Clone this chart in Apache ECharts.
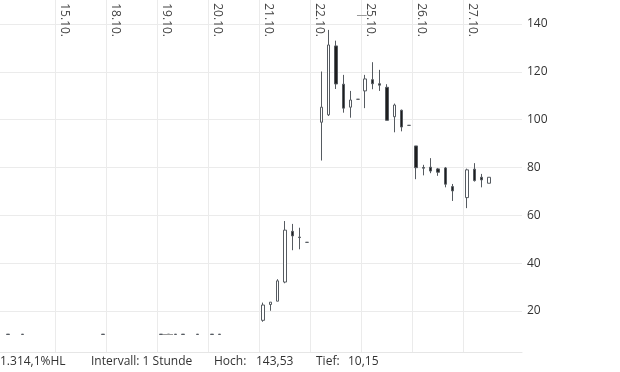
<!DOCTYPE html>
<html>
<head>
<meta charset="utf-8">
<script src="https://cdn.jsdelivr.net/npm/echarts@6/dist/echarts.min.js"></script>
<style>
html,body{margin:0;padding:0;background:#fff;}
#chart{width:620px;height:372px;}
</style>
</head>
<body>
<div id="chart"></div>
<script>
// Day labels (each day = 7 hourly slots)
const days = ['14.10.', '15.10.', '18.10.', '19.10.', '20.10.', '21.10.', '22.10.', '25.10.', '26.10.', '27.10.'];
const slotsPerDay = 7;
const labeledDays = [1, 2, 3, 4, 5, 6, 7, 8, 9];
const yTicks = [20, 40, 60, 80, 100, 120, 140];

// Candles: day index, hour slot, open, close, low, high
const candleDay  = [0, 0, 1, 3, 3, 3, 3, 3, 4, 4,
                    5, 5, 5, 5, 5, 5, 5,
                    6, 6, 6, 6, 6, 6,
                    7, 7, 7, 7, 7, 7, 7,
                    8, 8, 8, 8, 8, 8,
                    9, 9, 9, 9];
const candleHour = [0, 2, 6, 0, 1, 2, 3, 5, 0, 1,
                    0, 1, 2, 3, 4, 5, 6,
                    1, 2, 3, 4, 5, 6,
                    0, 1, 2, 3, 4, 5, 6,
                    0, 1, 2, 3, 4, 5,
                    0, 1, 2, 3];
const opens  = [10.3, 10.3, 10.3, 10.3, 10.3, 10.3, 10.3, 10.3, 10.3, 10.3,
                16.1, 22.7, 24.1, 32.1, 53.3, 50.9, 48.7,
                98.9, 102.0, 130.8, 114.8, 105.2, 108.5,
                112.0, 116.7, 115.0, 113.5, 101.2, 103.9, 97.6,
                89.0, 80.0, 80.1, 79.4, 79.8, 72.0,
                67.4, 79.3, 75.9, 73.4];
const closes = [10.2, 10.2, 10.2, 10.2, 10.2, 10.2, 10.2, 10.2, 10.2, 10.2,
                22.5, 23.7, 32.6, 53.8, 51.4, 50.7, 48.7,
                105.2, 131.2, 114.9, 104.8, 108.2, 108.5,
                117.0, 115.0, 114.4, 99.7, 106.1, 96.9, 97.6,
                79.9, 79.7, 78.5, 78.0, 73.0, 70.2,
                79.0, 74.5, 74.8, 75.9];
const lows   = [10.2, 10.2, 10.2, 10.2, 10.2, 10.2, 10.2, 10.2, 10.2, 10.2,
                15.5, 20.1, 24.1, 31.6, 45.4, 45.8, 48.7,
                82.9, 101.5, 112.8, 102.9, 100.8, 108.5,
                104.8, 112.7, 112.0, 99.7, 94.7, 95.1, 97.6,
                75.1, 76.7, 77.6, 76.5, 71.7, 66.0,
                63.0, 74.1, 71.7, 73.4];
const highs  = [10.3, 10.3, 10.3, 10.3, 10.3, 10.3, 10.3, 10.3, 10.3, 10.3,
                23.5, 23.7, 33.3, 57.6, 56.4, 54.8, 48.7,
                120.1, 137.5, 133.0, 118.7, 112.0, 108.5,
                118.7, 124.0, 120.8, 114.8, 106.7, 104.2, 97.6,
                89.0, 81.1, 83.9, 79.8, 80.2, 73.1,
                79.5, 81.8, 77.3, 75.9];

// High / low markers
const hochValue = 143.53;
const tiefValue = 10.15;
const hochSlot = [48.38, 49.71];
const tiefSlot = [21.76, 23.13];

const footer = [
  {text: '1.314,1%HL', x: 0},
  {text: 'Intervall: 1 Stunde', x: 91},
  {text: 'Hoch:', x: 214},
  {text: '143,53', x: 256},
  {text: 'Tief:', x: 316},
  {text: '10,15', x: 348}
];

const data = candleDay.map((d, i) => [d * slotsPerDay + candleHour[i] + 0.5, opens[i], closes[i], lows[i], highs[i]]);
const dayTicks = labeledDays.map(d => d * slotsPerDay);

const chart = echarts.init(document.getElementById('chart'));
const FONT = '"Open Sans", "Noto Sans", sans-serif';
chart.setOption({
  animation: false,
  backgroundColor: '#fff',
  grid: {left: 0, right: 98, top: 0, bottom: 20, containLabel: false, outerBoundsMode: 'none'},
  xAxis: [{
    type: 'value',
    position: 'top',
    offset: -40,
    min: -0.618,
    max: 71.03,
    axisLine: {show: false},
    axisTick: {show: false, customValues: dayTicks},
    splitLine: {show: true, lineStyle: {color: '#ebebeb', width: 1}},
    axisLabel: {
      show: true,
      customValues: dayTicks,
      inside: false,
      rotate: 90,
      margin: 3,
      verticalAlign: 'bottom',
      align: 'right',
      padding: [0, 0, 3, 0],
      color: '#444',
      fontFamily: FONT,
      fontSize: 12,
      formatter: v => days[Math.round(v / slotsPerDay)]
    }
  }, {
    type: 'value',
    position: 'bottom',
    min: -0.618,
    max: 71.03,
    axisLine: {show: true, lineStyle: {color: '#e6e6e6'}},
    axisTick: {show: false},
    axisLabel: {show: false},
    splitLine: {show: false}
  }],
  yAxis: {
    type: 'value',
    position: 'right',
    min: 2.86,
    max: 150,
    axisLine: {show: false},
    axisTick: {show: false, customValues: yTicks},
    splitLine: {show: true, lineStyle: {color: '#ebebeb', width: 1}},
    axisLabel: {
      customValues: yTicks,
      margin: 5,
      color: '#333',
      fontFamily: FONT,
      fontSize: 12
    }
  },
  series: [{
    type: 'candlestick',
    xAxisIndex: 0,
    data: data,
    dimensions: ['x', 'open', 'close', 'lowest', 'highest'],
    encode: {x: 0, y: [1, 2, 3, 4]},
    barWidth: 3,
    itemStyle: {
      color: '#ffffff',
      color0: '#1e1e1e',
      borderColor: '#565b61',
      borderColor0: '#565b61',
      borderColorDoji: '#565b61',
      borderWidth: 1
    },
    markLine: {
      silent: true,
      symbol: 'none',
      label: {show: false},
      lineStyle: {color: '#9a9a9a', width: 1, type: 'solid'},
      data: [
        [{coord: [hochSlot[0], hochValue]}, {coord: [hochSlot[1], hochValue]}],
        [{coord: [tiefSlot[0], tiefValue]}, {coord: [tiefSlot[1], tiefValue]}]
      ]
    }
  }],
  graphic: footer.map(f => ({
    type: 'text',
    left: f.x,
    top: 356,
    style: {text: f.text, fill: '#333', font: '12px ' + FONT}
  }))
});
</script>
</body>
</html>
